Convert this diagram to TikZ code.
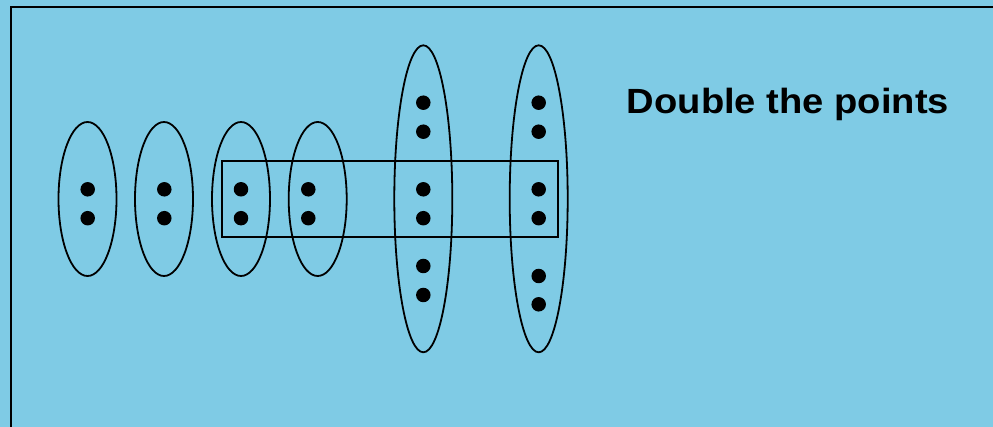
\documentclass[tikz,border=0pt]{standalone}
\usepackage{graphicx}
\usepackage{fontspec}
\setmainfont{Liberation Sans}
\usetikzlibrary{shapes.geometric}
\definecolor{bg}{HTML}{7FCBE5}
\tikzset{
  ring/.style={draw=black, line width=1.8pt, ellipse, inner sep=0pt, minimum width=58pt},
  shortring/.style={ring, minimum height=154pt},
  tallring/.style={ring, minimum height=307pt},
  dot/.style={fill=black, circle, inner sep=0pt, minimum size=14.5pt},
  box/.style={draw=black, line width=1.8pt, rectangle, inner sep=0pt},
  label/.style={font=\bfseries\fontsize{35}{40}\selectfont, anchor=base west, inner sep=0pt}
}
\begin{document}
\begin{tikzpicture}[x=1pt,y=-1pt]
\fill[bg] (0,0) rectangle (993,427);
\useasboundingbox (0,0) rectangle (993,427);
\coordinate (bl) at (10.7,430);
\coordinate (tl) at (10.7,6.7);
\coordinate (tr) at (996,6.7);
\draw[line width=1.8pt] (bl) -- (tl) -- (tr);
% short ellipses
\node[shortring] (e1) at (87.5,199) {};
\node[shortring] (e2) at (164,199) {};
\node[shortring] (e3) at (241,199) {};
\node[shortring] (e4) at (317.7,199) {};
% tall ellipses
\node[tallring] (e5) at (423.3,198.8) {};
\node[tallring] (e6) at (538.7,198.8) {};
% rectangle
\node[box, minimum width=336.6pt, minimum height=76.6pt] (r) at (390,199) {};
% dots
\foreach \x/\n in {87.7/a,164.3/b,241/c,308.3/d,423.3/e,538.7/f}{
  \node[dot] (\n1) at (\x,189.3) {};
  \node[dot] (\n2) at (\x,218.2) {};
}
\node[dot] (e3d) at (423.3,102.7) {};
\node[dot] (e4d) at (423.3,131.7) {};
\node[dot] (e5d) at (423.3,266) {};
\node[dot] (e6d) at (423.3,295) {};
\node[dot] (f3) at (538.7,102.7) {};
\node[dot] (f4) at (538.7,131.7) {};
\node[dot] (f5) at (538.7,276) {};
\node[dot] (f6) at (538.7,304.3) {};
\node[label] (t) at (626.7,113.3) {\scalebox{1.09}[1]{Double the points}};
\end{tikzpicture}
\end{document}
